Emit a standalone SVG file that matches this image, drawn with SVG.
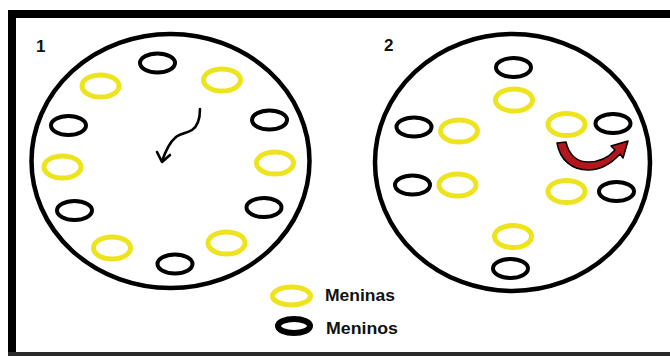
<svg xmlns="http://www.w3.org/2000/svg" width="670" height="356" viewBox="0 0 670 356">
<defs>
<style>
.ring{fill:none;stroke:#000;stroke-width:4.5}
.g{fill:none;stroke:#ede41f;stroke-width:5}
.b{fill:none;stroke:#000;stroke-width:4}
.lbl{font-family:"Liberation Sans",Arial,sans-serif;font-weight:bold;fill:#111}
.wav{fill:none;stroke:#000;stroke-width:2.6;stroke-linecap:round;stroke-linejoin:round}
</style>
</defs>
<rect width="670" height="356" fill="#fff"/>
<g id="frame">
<rect x="8" y="10" width="662" height="8" fill="#000"/>
<rect x="8" y="10" width="8" height="346" fill="#000"/>
<rect x="8" y="352" width="662" height="4" fill="#2a2a2a"/>
</g>
<g id="circle1">
<ellipse class="ring" cx="170.5" cy="161" rx="139" ry="127"/>
<text class="lbl" x="36" y="52" font-size="17">1</text>
</g>
<g id="circle2">
<ellipse class="ring" cx="512.5" cy="162.5" rx="137.5" ry="128.5"/>
<text class="lbl" x="384" y="51" font-size="17">2</text>
</g>
<g id="c1-boy-top"><ellipse class="b" cx="157.5" cy="63" rx="17.5" ry="9.5"/></g>
<g id="c1-girl-topleft"><ellipse class="g" cx="100.5" cy="86" rx="18.5" ry="11"/></g>
<g id="c1-girl-topright"><ellipse class="g" cx="222" cy="80" rx="18.5" ry="11"/></g>
<g id="c1-boy-left"><ellipse class="b" cx="68.5" cy="125.5" rx="17.5" ry="9.5"/></g>
<g id="c1-boy-right"><ellipse class="b" cx="269.5" cy="120" rx="17.5" ry="9.5"/></g>
<g id="c1-girl-left"><ellipse class="g" cx="62.5" cy="167" rx="18.5" ry="11"/></g>
<g id="c1-girl-right"><ellipse class="g" cx="275" cy="163" rx="18.5" ry="11"/></g>
<g id="c1-boy-lowleft"><ellipse class="b" cx="74.5" cy="210.5" rx="17.5" ry="9.5"/></g>
<g id="c1-boy-lowright"><ellipse class="b" cx="264" cy="207.5" rx="17.5" ry="9.5"/></g>
<g id="c1-girl-lowleft"><ellipse class="g" cx="112" cy="248" rx="18.5" ry="11"/></g>
<g id="c1-girl-lowright"><ellipse class="g" cx="226.5" cy="243" rx="18.5" ry="11"/></g>
<g id="c1-boy-bottom"><ellipse class="b" cx="175" cy="264" rx="17.5" ry="9.5"/></g>
<g id="c2-boy-top"><ellipse class="b" cx="513.5" cy="67.5" rx="17.5" ry="9.5"/></g>
<g id="c2-girl-top"><ellipse class="g" cx="514" cy="100" rx="18.5" ry="11"/></g>
<g id="c2-girl-rightup"><ellipse class="g" cx="566.5" cy="124.5" rx="18.5" ry="11"/></g>
<g id="c2-boy-rightup"><ellipse class="b" cx="613" cy="123.5" rx="17.5" ry="9.5"/></g>
<g id="c2-boy-leftup"><ellipse class="b" cx="414" cy="127" rx="17.5" ry="9.5"/></g>
<g id="c2-girl-leftup"><ellipse class="g" cx="459" cy="131" rx="18.5" ry="11"/></g>
<g id="c2-boy-leftlow"><ellipse class="b" cx="412.5" cy="185" rx="17.5" ry="9.5"/></g>
<g id="c2-girl-leftlow"><ellipse class="g" cx="457.5" cy="185" rx="18.5" ry="11"/></g>
<g id="c2-girl-rightlow"><ellipse class="g" cx="566.5" cy="191.5" rx="18.5" ry="11"/></g>
<g id="c2-boy-rightlow"><ellipse class="b" cx="616.5" cy="191.5" rx="17.5" ry="9.5"/></g>
<g id="c2-girl-bottom"><ellipse class="g" cx="513" cy="236.5" rx="18.5" ry="11"/></g>
<g id="c2-boy-bottom"><ellipse class="b" cx="510.5" cy="268.5" rx="17.5" ry="9.5"/></g>
<g id="legend">
<ellipse class="g" cx="291.5" cy="296" rx="19" ry="9"/>
<ellipse fill="none" stroke="#000" stroke-width="6" cx="294" cy="326" rx="16" ry="7"/>
<text class="lbl" x="325" y="300.5" font-size="17" textLength="70" lengthAdjust="spacingAndGlyphs">Meninas</text>
<text class="lbl" x="326" y="334" font-size="17" textLength="72" lengthAdjust="spacingAndGlyphs">Meninos</text>
</g>
<g id="connectors">
<path class="wav" d="M200,109 C200,118 198,126 192,130 C186,134 180,133 175,138 C170,142 166,150 162,161"/>
<path class="wav" d="M157,152 L162,162 L170,155"/>
<path d="M566,142 C569,156 578,162 588,162 C599,162 609,157 615,150 L611,146 L628,141 L623,158 L620,154 C611,164 600,170 588,170 C572,170 560,160 557,143 Z" fill="#b3161b" stroke="#000" stroke-width="1.5" stroke-linejoin="round"/>
</g>
</svg>
